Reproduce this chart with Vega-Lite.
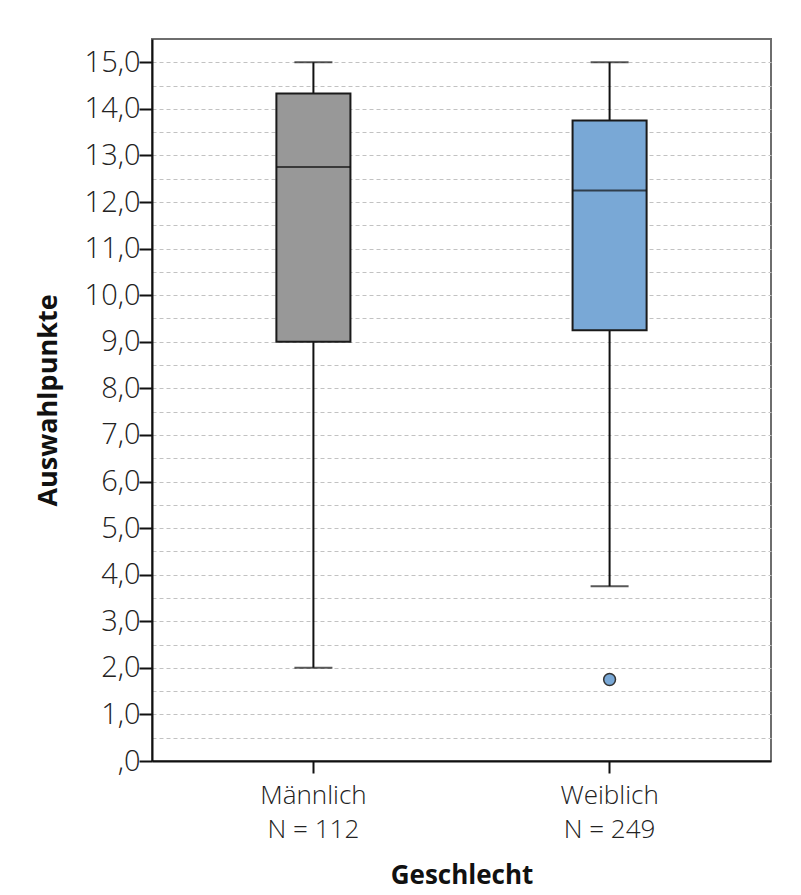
{
  "$schema": "https://vega.github.io/schema/vega-lite/v6.json",
  "autosize": {"type": "none"},
  "width": 619,
  "height": 722,
  "padding": {"left": 152, "top": 39, "right": 30, "bottom": 134},
  "background": "white",
  "config": {
    "view": {"stroke": "#6e6e6e", "strokeWidth": 2},
    "font": "Open Sans",
    "axisY": {
      "title": "Auswahlpunkte",
      "titleFont": "Open Sans", "titleFontSize": 27, "titleFontWeight": "bold", "titleColor": "#111",
      "titlePadding": 22,
      "labelFont": "Open Sans", "labelFontSize": 29, "labelFontWeight": 300, "labelColor": "#222", "labelPadding": -1,
      "labelOverlap": false,
      "domainColor": "#111", "domainWidth": 2,
      "tickWidth": 2, "tickSize": 13,
      "grid": true, "gridColor": "#c2c2c2", "gridDash": [4, 3], "gridWidth": 1
    }
  },
  "datasets": {
    "stats": [
      {"g": "Männlich", "lo": 2.0, "q1": 9.0, "med": 12.75, "q3": 14.33, "hi": 15.0},
      {"g": "Weiblich", "lo": 3.75, "q1": 9.25, "med": 12.25, "q3": 13.75, "hi": 15.0}
    ],
    "outliers": [
      {"g": "Weiblich", "v": 1.75}
    ]
  },
  "encoding": {
    "x": {
      "field": "g", "type": "nominal",
      "scale": {"domain": ["Männlich", "Weiblich"], "paddingInner": 0.75, "paddingOuter": 0.42},
      "axis": {
        "title": "Geschlecht",
        "titleFont": "Open Sans", "titleFontSize": 26, "titleFontWeight": "bold", "titleColor": "#111",
        "titlePadding": 20,
        "labelFont": "Open Sans", "labelFontSize": 26, "labelFontWeight": 300, "labelColor": "#222",
        "labelAngle": 0, "labelLineHeight": 34, "labelPadding": 9,
        "labelExpr": "datum.value == 'Männlich' ? ['Männlich', 'N = 112'] : ['Weiblich', 'N = 249']",
        "domainColor": "#111", "domainWidth": 2,
        "tickColor": "#111", "tickWidth": 2, "tickSize": 12,
        "grid": false
      }
    }
  },
  "layer": [
    {
      "data": {"name": "stats"},
      "mark": {"type": "rule", "color": "#111", "strokeWidth": 2},
      "encoding": {
        "y": {
          "field": "lo", "type": "quantitative",
          "scale": {"domain": [0, 15.5], "nice": false, "zero": true},
          "axis": {
            "title": "Auswahlpunkte",
            "values": [0,0.5,1,1.5,2,2.5,3,3.5,4,4.5,5,5.5,6,6.5,7,7.5,8,8.5,9,9.5,10,10.5,11,11.5,12,12.5,13,13.5,14,14.5,15],
            "labelExpr": "datum.value == 0 ? ',0' : (datum.value % 1 == 0 ? replace(format(datum.value, '.1f'), '.', ',') : '')",
            "tickColor": {"condition": {"test": "datum.value % 1 != 0", "value": "transparent"}, "value": "#111"}
          }
        },
        "y2": {"field": "q1"}
      }
    },
    {
      "data": {"name": "stats"},
      "mark": {"type": "rule", "color": "#111", "strokeWidth": 2},
      "encoding": {
        "y": {"field": "q3", "type": "quantitative", "axis": {
            "title": "Auswahlpunkte",
            "values": [0,0.5,1,1.5,2,2.5,3,3.5,4,4.5,5,5.5,6,6.5,7,7.5,8,8.5,9,9.5,10,10.5,11,11.5,12,12.5,13,13.5,14,14.5,15],
            "labelExpr": "datum.value == 0 ? ',0' : (datum.value % 1 == 0 ? replace(format(datum.value, '.1f'), '.', ',') : '')",
            "tickColor": {"condition": {"test": "datum.value % 1 != 0", "value": "transparent"}, "value": "#111"}
          }},
        "y2": {"field": "hi"}
      }
    },
    {
      "data": {"name": "stats"},
      "mark": {"type": "tick", "color": "#111", "size": 38, "thickness": 2},
      "encoding": {"y": {"field": "lo", "type": "quantitative", "axis": {
            "title": "Auswahlpunkte",
            "values": [0,0.5,1,1.5,2,2.5,3,3.5,4,4.5,5,5.5,6,6.5,7,7.5,8,8.5,9,9.5,10,10.5,11,11.5,12,12.5,13,13.5,14,14.5,15],
            "labelExpr": "datum.value == 0 ? ',0' : (datum.value % 1 == 0 ? replace(format(datum.value, '.1f'), '.', ',') : '')",
            "tickColor": {"condition": {"test": "datum.value % 1 != 0", "value": "transparent"}, "value": "#111"}
          }}}
    },
    {
      "data": {"name": "stats"},
      "mark": {"type": "tick", "color": "#111", "size": 38, "thickness": 2},
      "encoding": {"y": {"field": "hi", "type": "quantitative", "axis": {
            "title": "Auswahlpunkte",
            "values": [0,0.5,1,1.5,2,2.5,3,3.5,4,4.5,5,5.5,6,6.5,7,7.5,8,8.5,9,9.5,10,10.5,11,11.5,12,12.5,13,13.5,14,14.5,15],
            "labelExpr": "datum.value == 0 ? ',0' : (datum.value % 1 == 0 ? replace(format(datum.value, '.1f'), '.', ',') : '')",
            "tickColor": {"condition": {"test": "datum.value % 1 != 0", "value": "transparent"}, "value": "#111"}
          }}}
    },
    {
      "data": {"name": "stats"},
      "mark": {"type": "bar", "stroke": "#1a1a1a", "strokeWidth": 2, "opacity": 1},
      "encoding": {
        "y": {"field": "q1", "type": "quantitative", "axis": {
            "title": "Auswahlpunkte",
            "values": [0,0.5,1,1.5,2,2.5,3,3.5,4,4.5,5,5.5,6,6.5,7,7.5,8,8.5,9,9.5,10,10.5,11,11.5,12,12.5,13,13.5,14,14.5,15],
            "labelExpr": "datum.value == 0 ? ',0' : (datum.value % 1 == 0 ? replace(format(datum.value, '.1f'), '.', ',') : '')",
            "tickColor": {"condition": {"test": "datum.value % 1 != 0", "value": "transparent"}, "value": "#111"}
          }},
        "y2": {"field": "q3"},
        "fill": {
          "field": "g", "type": "nominal",
          "scale": {"domain": ["Männlich", "Weiblich"], "range": ["#989898", "#79a8d6"]},
          "legend": null
        }
      }
    },
    {
      "data": {"name": "stats"},
      "mark": {"type": "tick", "color": "#111", "size": 74, "thickness": 2},
      "encoding": {"y": {"field": "med", "type": "quantitative", "axis": {
            "title": "Auswahlpunkte",
            "values": [0,0.5,1,1.5,2,2.5,3,3.5,4,4.5,5,5.5,6,6.5,7,7.5,8,8.5,9,9.5,10,10.5,11,11.5,12,12.5,13,13.5,14,14.5,15],
            "labelExpr": "datum.value == 0 ? ',0' : (datum.value % 1 == 0 ? replace(format(datum.value, '.1f'), '.', ',') : '')",
            "tickColor": {"condition": {"test": "datum.value % 1 != 0", "value": "transparent"}, "value": "#111"}
          }}}
    },
    {
      "data": {"name": "outliers"},
      "mark": {"type": "point", "filled": true, "fill": "#79a8d6", "stroke": "#333", "strokeWidth": 1.5, "size": 140, "opacity": 1},
      "encoding": {"y": {"field": "v", "type": "quantitative", "axis": {
            "title": "Auswahlpunkte",
            "values": [0,0.5,1,1.5,2,2.5,3,3.5,4,4.5,5,5.5,6,6.5,7,7.5,8,8.5,9,9.5,10,10.5,11,11.5,12,12.5,13,13.5,14,14.5,15],
            "labelExpr": "datum.value == 0 ? ',0' : (datum.value % 1 == 0 ? replace(format(datum.value, '.1f'), '.', ',') : '')",
            "tickColor": {"condition": {"test": "datum.value % 1 != 0", "value": "transparent"}, "value": "#111"}
          }}}
    }
  ]
}
